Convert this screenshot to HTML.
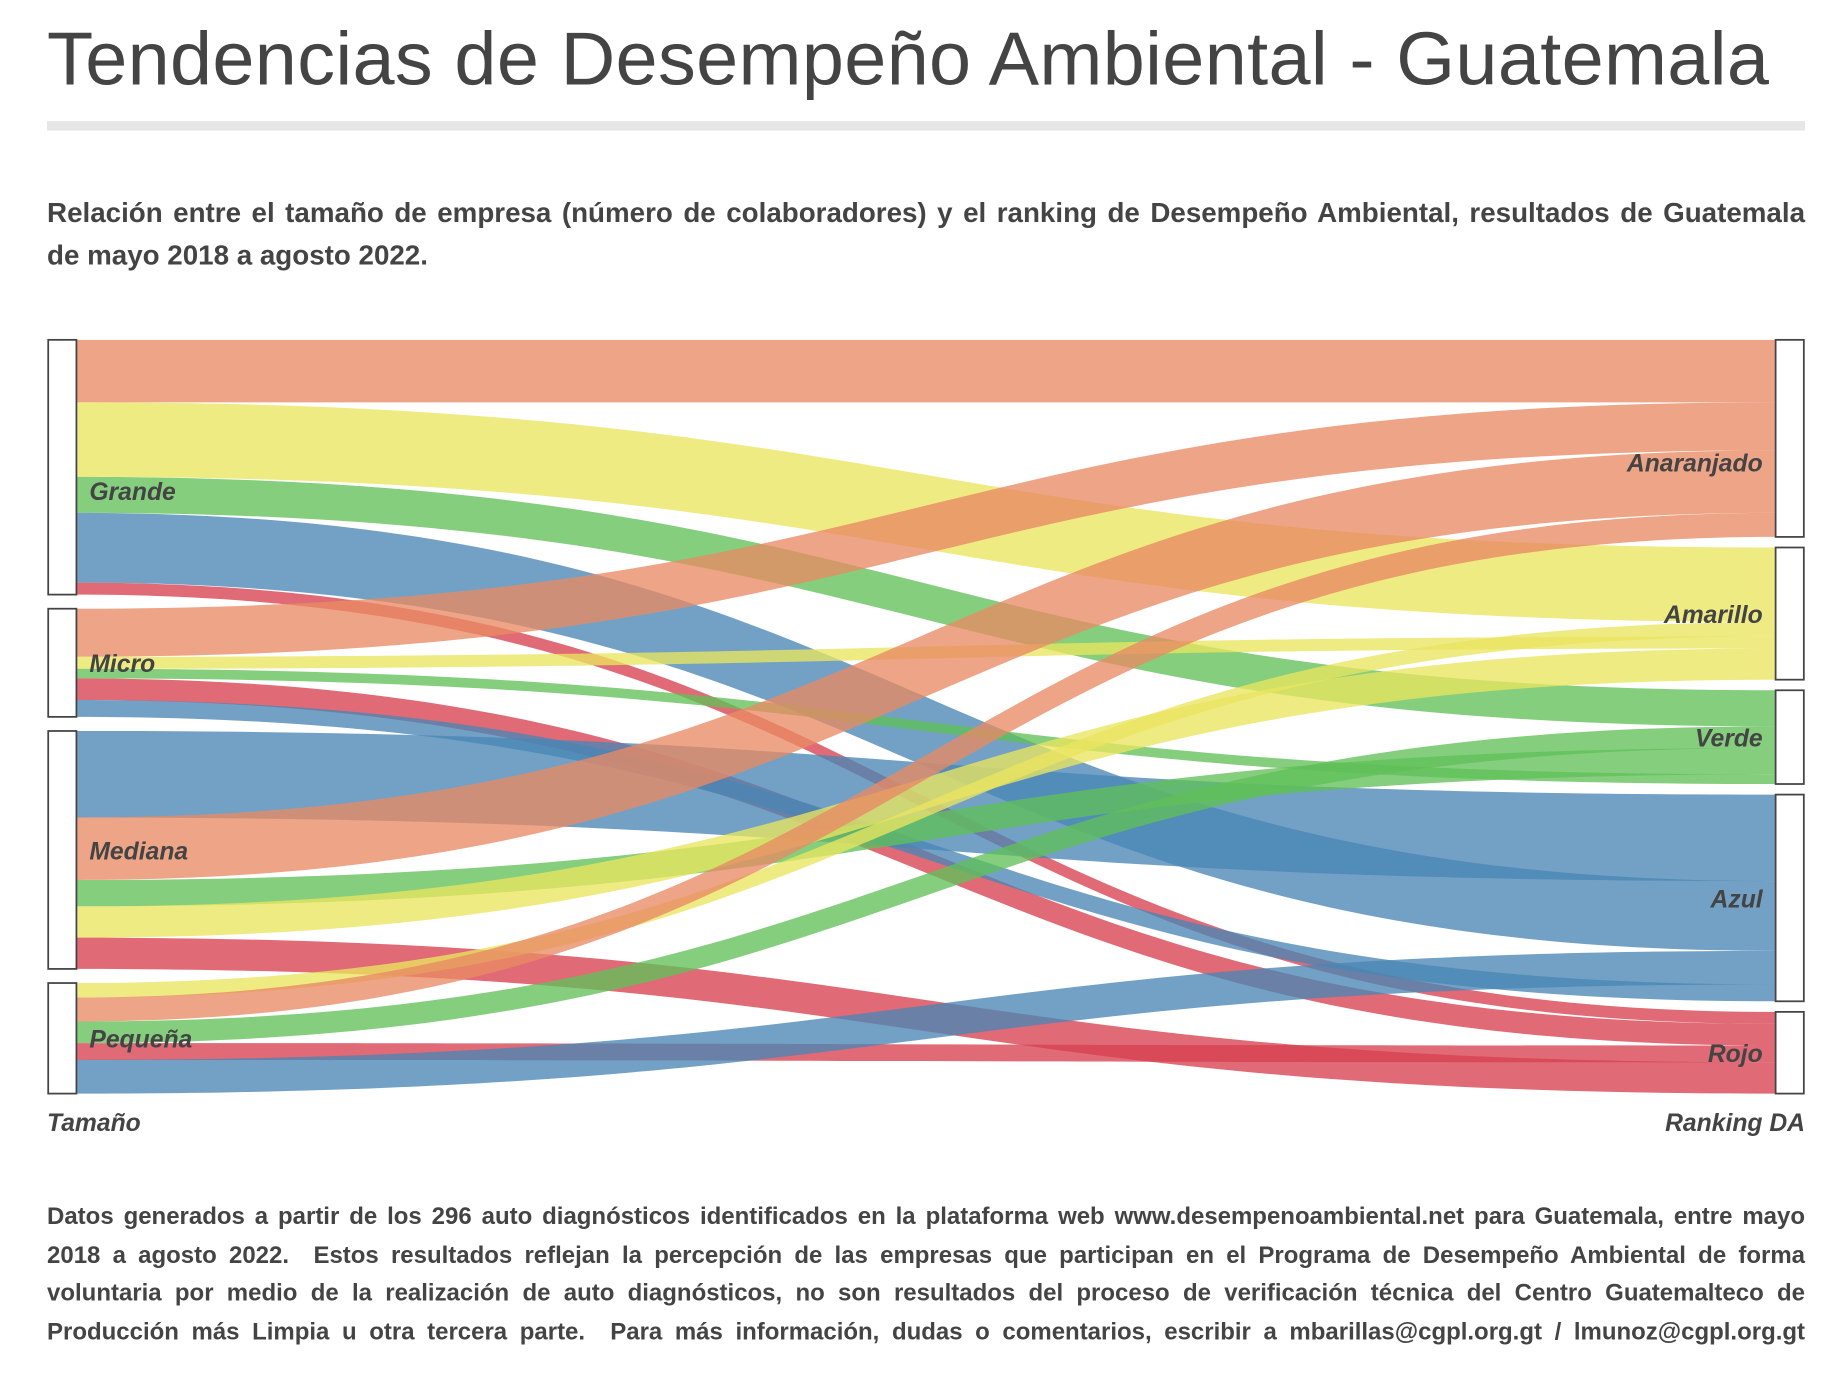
<!DOCTYPE html>
<html><head><meta charset="utf-8"><style>
html,body{margin:0;padding:0;background:#fff;overflow:hidden}
#wrap{width:1569px;height:1171px;transform:scale(1.1759);transform-origin:0 0;position:relative;font-family:"Liberation Sans",sans-serif;color:#444}
h1{position:absolute;left:40px;top:13px;margin:0;font-weight:normal;font-size:64.3px;letter-spacing:0.3px;white-space:nowrap}
#bar{position:absolute;left:40px;top:103px;width:1495px;height:8px;background:#e6e6e6}
#sub{position:absolute;left:40px;top:164px;width:1495px;font-size:23.6px;line-height:36px;font-weight:bold}
#foot{position:absolute;left:40px;top:1019px;width:1495px;font-size:20.4px;line-height:32.5px;font-weight:bold}
.ln{white-space:nowrap;text-align:justify;text-align-last:justify}
.last{white-space:nowrap}
svg{position:absolute;left:0;top:0}
.nl{font-weight:bold;font-style:italic;font-size:21px;fill:#444}
</style></head><body>
<div id="wrap">
<h1>Tendencias de Desempeño Ambiental - Guatemala</h1>
<div id="bar"></div>
<div id="sub"><div class="ln">Relación entre el tamaño de empresa (número de colaboradores) y el ranking de Desempeño Ambiental, resultados de Guatemala</div><div class="last">de mayo 2018 a agosto 2022.</div></div>
<svg id="chart" width="1569" height="1000"></svg>
<div id="foot"><div class="ln">Datos generados a partir de los 296 auto diagnósticos identificados en la plataforma web www.desempenoambiental.net para Guatemala, entre mayo</div><div class="ln">2018 a agosto 2022.&nbsp; Estos resultados reflejan la percepción de las empresas que participan en el Programa de Desempeño Ambiental de forma</div><div class="ln">voluntaria por medio de la realización de auto diagnósticos, no son resultados del proceso de verificación técnica del Centro Guatemalteco de</div><div class="ln">Producción más Limpia u otra tercera parte.&nbsp; Para más información, dudas o comentarios, escribir a mbarillas@cgpl.org.gt / lmunoz@cgpl.org.gt</div></div>
</div>
<script>
const sources = ["Grande","Micro","Mediana","Pequeña"];
const targets = ["Anaranjado","Amarillo","Verde","Azul","Rojo"];
const linkSource = ["Grande","Grande","Grande","Grande","Grande","Micro","Micro","Micro","Micro","Micro","Mediana","Mediana","Mediana","Mediana","Mediana","Pequeña","Pequeña","Pequeña","Pequeña","Pequeña"];
const linkTarget = ["Anaranjado","Amarillo","Verde","Azul","Rojo","Anaranjado","Amarillo","Verde","Rojo","Azul","Azul","Anaranjado","Verde","Amarillo","Rojo","Amarillo","Anaranjado","Verde","Rojo","Azul"];
const linkValue = [26,31,15,29,5,20,5,4,9,7,36,26,11,13,13,6,10,9,7,14];
const orderAnaranjado = ["Grande","Micro","Mediana","Pequeña"];
const orderAmarillo = ["Grande","Pequeña","Micro","Mediana"];
const orderVerde = ["Grande","Pequeña","Mediana","Micro"];
const orderAzul = ["Mediana","Grande","Pequeña","Micro"];
const orderRojo = ["Grande","Micro","Pequeña","Mediana"];
const targetOrder = {Anaranjado:orderAnaranjado,Amarillo:orderAmarillo,Verde:orderVerde,Azul:orderAzul,Rojo:orderRojo};
const colors = {Anaranjado:"#e98a64",Amarillo:"#eae660",Verde:"#62c05a",Azul:"#4a86b5",Rojo:"#d7404f"};

const svg = document.getElementById('chart');
const NS = "http://www.w3.org/2000/svg";
const top0 = 289, bottom0 = 930;
const total = linkValue.reduce((a,b)=>a+b,0);
function sumFor(arr,name){let s=0;for(let i=0;i<linkValue.length;i++) if(arr[i]===name) s+=linkValue[i];return s;}
const k = (bottom0-top0-9*(targets.length-1))/total;
const gapL=(bottom0-top0-total*k)/(sources.length-1), gapR=(bottom0-top0-total*k)/(targets.length-1);
const srcPos = {}, tgtPos = {};
let y = top0;
sources.forEach(s=>{const h=sumFor(linkSource,s)*k;srcPos[s]={y0:y,y1:y+h,cur:y};y+=h+gapL;});
y = top0;
targets.forEach(t=>{const h=sumFor(linkTarget,t)*k;tgtPos[t]={y0:y,y1:y+h,cur:y};y+=h+gapR;});
const xL = 65, xR = 1510, xm = (xL+xR)/2;
const tOff = {};
targets.forEach(t=>{targetOrder[t].forEach(s=>{for(let i=0;i<linkValue.length;i++) if(linkSource[i]===s&&linkTarget[i]===t){tOff[i]=tgtPos[t].cur;tgtPos[t].cur+=linkValue[i]*k;}});});
for(let i=0;i<linkValue.length;i++){
  const s=linkSource[i], h=linkValue[i]*k;
  const a0=srcPos[s].cur; srcPos[s].cur+=h;
  const b0=tOff[i];
  const p=document.createElementNS(NS,'path');
  p.setAttribute('d',`M${xL},${a0} C${xm},${a0} ${xm},${b0} ${xR},${b0} L${xR},${b0+h} C${xm},${b0+h} ${xm},${a0+h} ${xL},${a0+h} Z`);
  p.setAttribute('fill',colors[linkTarget[i]]);
  p.setAttribute('fill-opacity','0.78');
  
  
  svg.appendChild(p);
}
function rect(x,y0,y1,name){const r=document.createElementNS(NS,'rect');r.setAttribute('x',x);r.setAttribute('y',y0);r.setAttribute('width',24);r.setAttribute('height',y1-y0);r.setAttribute('fill','#fff');r.setAttribute('stroke','#444');r.setAttribute('stroke-width','1.5');


svg.appendChild(r);}
function text(x,yy,str,anchor,name){const t=document.createElementNS(NS,'text');t.setAttribute('x',x);t.setAttribute('y',yy);t.setAttribute('class','nl');t.setAttribute('text-anchor',anchor);t.textContent=str;


svg.appendChild(t);}
const labelShift = {Grande:20,Anaranjado:20};
sources.forEach(s=>{const p=srcPos[s];rect(41,p.y0,p.y1,'node-'+s.toLowerCase().replace('ñ','n'));text(76,(p.y0+p.y1)/2+8+(labelShift[s]||0),s,'start','label-'+s.toLowerCase().replace('ñ','n'));});
targets.forEach(t=>{const p=tgtPos[t];rect(1510,p.y0,p.y1,'node-'+t.toLowerCase());text(1499,(p.y0+p.y1)/2+8+(labelShift[t]||0),t,'end','label-'+t.toLowerCase());});
text(40,962,'Tamaño','start','left-axis-title');
text(1535,962,'Ranking DA','end','right-axis-title');
</script>
</body></html>
